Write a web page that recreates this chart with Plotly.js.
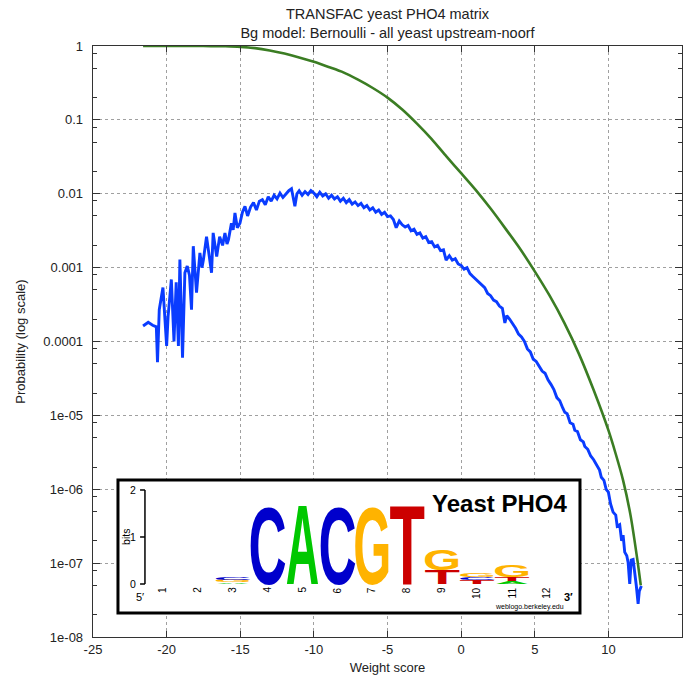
<!DOCTYPE html>
<html><head><meta charset="utf-8">
<script src="https://cdn.plot.ly/plotly-3.0.1.min.js"></script>
<style>html,body{margin:0;padding:0;background:#fff}#chart{width:689px;height:676px}</style>
</head><body><div id="chart"></div>
<script>
// ---- main chart data ----
const blueX = [
 -21.6,-21.25,-20.95,-20.7,-20.62,-20.5,-20.25,-20.0,-19.9,-19.68,
 -19.5,-19.35,-19.2,-19.1,-18.92,-18.76,-18.6,-18.45,-18.31,-18.19,
 -17.97,-17.74,-17.6,-17.5,-17.29,-17.1,-16.95,-16.84,-16.6,-16.4,
 -16.2,-16.04,-15.9,-15.8,-15.6,-15.48,-15.36,-15.2,-15.02,-14.85,
 -14.68,-14.5,-14.3,-14.1,-13.9,-13.7,-13.5,-13.3,-13.1,-12.9,
 -12.7,-12.5,-12.3,-12.1,-11.9,-11.7,-11.52,-11.4,-11.29,-11.15,
 -11.0,-10.8,-10.6,-10.4,-10.2,-10.0,-9.8,-9.6,-9.4,-9.2,
 -9.0,-8.8,-8.6,-8.4,-8.2,-8.0,-7.8,-7.6,-7.4,-7.2,
 -7.0,-6.8,-6.6,-6.4,-6.2,-6.0,-5.8,-5.6,-5.4,-5.2,
 -5.0,-4.8,-4.6,-4.41,-4.2,-4.0,-3.8,-3.6,-3.4,-3.2,
 -3.0,-2.8,-2.6,-2.4,-2.2,-2.0,-1.8,-1.6,-1.4,-1.2,
 -1.02,-0.8,-0.6,-0.4,-0.2,0.0,0.2,0.4,0.6,0.8,
 1.0,1.2,1.4,1.6,1.8,2.0,2.2,2.4,2.6,2.8,
 2.97,3.1,3.3,3.5,3.7,3.9,4.1,4.3,4.5,4.7,
 4.9,5.1,5.3,5.5,5.7,5.9,6.1,6.3,6.5,6.7,
 6.9,7.04,7.2,7.4,7.6,7.72,7.9,8.1,8.3,8.4,
 8.6,8.8,9.0,9.2,9.4,9.52,9.7,9.85,10.0,10.15,
 10.32,10.5,10.6,10.77,10.9,11.0,11.11,11.25,11.34,11.45,
 11.55,11.68,11.8,11.9,12.02,12.1,12.24
];
const blueY = [
 1.62e-4,1.82e-4,1.66e-4,1.58e-4,5.25e-5,2.69e-4,5.37e-4,8.71e-5,2.19e-4,6.92e-4,
 1.0e-4,6.31e-4,8.71e-5,1.29e-3,6.03e-5,8.51e-4,1.05e-3,7.94e-4,2.69e-4,1.95e-3,
 4.57e-4,1.58e-3,1.0e-3,1.29e-3,2.63e-3,1.26e-3,8.51e-4,2.95e-3,1.41e-3,2.63e-3,
 2.0e-3,2.95e-3,2.09e-3,2.4e-3,3.98e-3,3.24e-3,5.5e-3,3.47e-3,3.98e-3,5.62e-3,
 6.76e-3,5.01e-3,6.61e-3,7.59e-3,6.03e-3,7.94e-3,8.32e-3,7.08e-3,9.12e-3,7.94e-3,
 9.55e-3,8.51e-3,1.02e-2,8.91e-3,1.0e-2,1.10e-2,1.17e-2,9.12e-3,6.76e-3,1.0e-2,
 1.10e-2,9.55e-3,1.07e-2,9.77e-3,1.10e-2,1.02e-2,9.12e-3,1.05e-2,9.33e-3,1.0e-2,
 8.71e-3,9.55e-3,8.51e-3,9.12e-3,7.94e-3,8.71e-3,7.59e-3,8.32e-3,7.24e-3,7.76e-3,
 6.92e-3,7.41e-3,6.46e-3,6.92e-3,6.03e-3,6.46e-3,5.62e-3,6.03e-3,5.25e-3,5.62e-3,
 4.9e-3,5.01e-3,4.47e-3,3.47e-3,4.27e-3,3.8e-3,3.55e-3,3.72e-3,3.16e-3,3.31e-3,
 2.82e-3,2.95e-3,2.51e-3,2.63e-3,2.19e-3,2.24e-3,1.91e-3,2.0e-3,1.7e-3,1.74e-3,
 1.26e-3,1.45e-3,1.26e-3,1.32e-3,1.12e-3,1.07e-3,9.55e-4,1.0e-3,8.32e-4,7.59e-4,
 6.92e-4,6.31e-4,5.75e-4,5.37e-4,4.47e-4,4.17e-4,3.63e-4,3.47e-4,3.02e-4,2.82e-4,
 1.78e-4,2.24e-4,2.0e-4,1.74e-4,1.51e-4,1.26e-4,1.15e-4,1.0e-4,7.94e-5,7.24e-5,
 5.75e-5,5.37e-5,4.68e-5,3.98e-5,3.72e-5,3.02e-5,2.63e-5,2.24e-5,1.74e-5,1.58e-5,
 1.26e-5,1.1e-5,1.05e-5,7.94e-6,7.59e-6,6.31e-6,6.03e-6,4.68e-6,4.37e-6,3.8e-6,
 3.47e-6,2.82e-6,2.51e-6,2.09e-6,1.82e-6,1.45e-6,1.32e-6,1.0e-6,9.12e-7,6.31e-7,
 4.9e-7,4.47e-7,3.16e-7,3.31e-7,2.0e-7,2.4e-7,1.41e-7,1.26e-7,1.02e-7,5.25e-8,
 1.1e-7,1.12e-7,6.31e-8,4.9e-8,2.82e-8,4.17e-8,4.9e-8
];
const greenX = [-21.6,-20,-18,-17,-16,-15,-14,-13,-12,-11,-10,-9,-8,-7,-6,-5,-4,-3,-2,-1,0,1,2,3,4,5,6,7,8,9,10,10.5,11,11.5,12,12.2];
const greenY = [1.0,0.9998,0.999,0.997,0.99,0.973,0.935,0.87,0.79,0.70,0.61,0.52,0.44,0.35,0.27,0.20,0.138,0.089,0.055,0.032,0.019,0.0112,0.0063,0.0034,0.0018,8.9e-4,4.2e-4,1.8e-4,6.8e-5,2.2e-5,6.3e-6,3.0e-6,1.32e-6,4.5e-7,1.0e-7,5.0e-8];

const xTickVals = [-25,-20,-15,-10,-5,0,5,10,15];
const yTickVals = [1,0.1,0.01,0.001,0.0001,1e-5,1e-6,1e-7,1e-8];
const yTickText = ['1','0.1','0.01','0.001','0.0001','1e-05','1e-06','1e-07','1e-08'];
const yMinorMantissas = [2,5,8];

// ---- sequence logo data (inset) ----
const logoPositions = [1,2,3,4,5,6,7,8,9,10,11,12];
const logoLetterPos = [3,3,3,4,5,6,7,8,9,9,10,10,10,11,11,11];
const logoLetters   = ['A','G','C','C','A','C','G','T','T','G','T','C','G','A','T','G'];
const logoBits      = [0.035,0.05,0.045,1.72,1.72,1.72,1.72,1.72,0.3,0.47,0.08,0.06,0.09,0.06,0.09,0.25];
const logoBitTicks  = [0,1,2];
const logoColors = {A:'#00c800', C:'#0000cc', G:'#ffb300', T:'#cc0000'};

const FONT = 'Liberation Sans, Arial, Helvetica, sans-serif';
const TXT = '#222';

// minor tick values for log axis
const yMinor = [];
for (let e = 0; e >= -8; e--) {
  yMinorMantissas.forEach(m => { const v = m * Math.pow(10, e - 1); if (v >= 1e-8 && v <= 1) yMinor.push(v); });
}

const traces = [
  {type:'scatter', mode:'lines', x: greenX, y: greenY, line:{color:'#3b7d23', width:2.6, shape:'spline', smoothing:0.6}, hoverinfo:'skip', showlegend:false},
  {type:'scatter', mode:'lines', x: blueX, y: blueY, line:{color:'#0a3cff', width:2.9}, hoverinfo:'skip', showlegend:false},
  {type:'scatter', mode:'markers', x: [], y: [], xaxis:'x2', yaxis:'y2', hoverinfo:'skip', showlegend:false}
];

// inset geometry (paper fractions of plot area) and logo axis ranges
const boxX = [0.0424, 0.8268], boxY = [0.0406, 0.2657];
const logoXRange = [-0.289, 12.948];
const logoYRange = [-0.617, 2.213];
const bitsAxisX = 0.484;

const shapes = [
  {type:'rect', xref:'paper', yref:'paper', x0:boxX[0], x1:boxX[1], y0:boxY[0], y1:boxY[1], line:{color:'#000', width:3}, fillcolor:'#fff', layer:'above'},
  {type:'line', xref:'x2', yref:'y2', x0:bitsAxisX, x1:bitsAxisX, y0:0, y1:2, line:{color:'#000', width:1.5}, layer:'above'}
];
logoBitTicks.forEach(b => shapes.push({type:'line', xref:'x2', yref:'y2', x0:bitsAxisX-0.14, x1:bitsAxisX, y0:b, y1:b, line:{color:'#000', width:1.5}, layer:'above'}));

const annotations = [];
logoBitTicks.forEach(b => annotations.push({xref:'x2', yref:'y2', x:0.29, y:b, text:String(b), showarrow:false, xanchor:'right', yanchor:'middle', font:{family:FONT, size:10.5, color:'#000'}}));
annotations.push({xref:'x2', yref:'y2', x:-0.06, y:1, text:'bits', textangle:-90, showarrow:false, xanchor:'center', yanchor:'middle', font:{family:FONT, size:10.5, color:'#000'}});
logoPositions.forEach(p => annotations.push({xref:'x2', yref:'y2', x:p, y:-0.02, text:String(p), textangle:-90, showarrow:false, xanchor:'center', yanchor:'top', font:{family:FONT, size:10, color:'#000'}}));
annotations.push({xref:'x2', yref:'y2', x:0.34, y:-0.28, text:'5\u2032', showarrow:false, xanchor:'center', yanchor:'middle', font:{family:FONT, size:11, color:'#000'}});
annotations.push({xref:'x2', yref:'y2', x:12.63, y:-0.28, text:'3\u2032', showarrow:false, xanchor:'center', yanchor:'middle', font:{family:FONT, size:11, color:'#000', weight:'bold'}});
annotations.push({xref:'x2', yref:'y2', x:12.55, y:-0.49, text:'weblogo.berkeley.edu', showarrow:false, xanchor:'right', yanchor:'middle', font:{family:FONT, size:7, color:'#000'}});
annotations.push({xref:'x2', yref:'y2', x:10.63, y:1.72, text:'Yeast PHO4', showarrow:false, xanchor:'center', yanchor:'middle', font:{family:FONT, size:24, color:'#000', weight:'bold'}});

// stacked letters
const LETTER_FONT = 100;
const letterStart = annotations.length;
const letterMeta = [];
const stackTop = {};
logoLetters.forEach((L, i) => {
  const p = logoLetterPos[i];
  const bottom = stackTop[p] || 0;
  stackTop[p] = bottom + logoBits[i];
  letterMeta.push({letter:L, pos:p, bottom:bottom, bits:logoBits[i]});
  annotations.push({xref:'x2', yref:'y2', x:p, y:bottom, text:L, showarrow:false, xanchor:'center', yanchor:'bottom', borderpad:0,
    font:{family:FONT, size:LETTER_FONT, color:logoColors[L], weight:'bold'}});
});

const axisFont = {family:FONT, size:13, color:TXT};
const layout = {
  width:689, height:676,
  margin:{l:93, r:7, t:46, b:39},
  paper_bgcolor:'#fff', plot_bgcolor:'#fff',
  showlegend:false,
  title:{text:'TRANSFAC yeast PHO4 matrix<br>Bg model: Bernoulli - all yeast upstream-noorf', font:{family:FONT, size:14.5, color:TXT}, x:0.5, xref:'paper', xanchor:'center', y:0.9715, yref:'container', yanchor:'middle'},
  xaxis:{range:[-25,15], tickmode:'array', tickvals:xTickVals, ticktext:xTickVals.map(String), ticks:'inside', ticklen:6, tickcolor:'#333', tickwidth:1,
    showline:true, linecolor:'#333', linewidth:1.3, mirror:'allticks', showgrid:true, gridcolor:'#a0a0a0', griddash:'dot', gridwidth:1, zeroline:false,
    tickfont:axisFont, title:{text:'Weight score', font:axisFont, standoff:7}},
  yaxis:{type:'log', range:[-8,0], tickmode:'array', tickvals:yTickVals, ticktext:yTickText, ticks:'inside', ticklen:7, tickcolor:'#333', tickwidth:1,
    minor:{tickmode:'array', tickvals:yMinor, ticks:'inside', ticklen:4, tickcolor:'#333', showgrid:false},
    showline:true, linecolor:'#333', linewidth:1.3, mirror:'allticks', showgrid:true, gridcolor:'#a0a0a0', griddash:'dot', gridwidth:1, zeroline:false,
    tickfont:axisFont, ticklabelstandoff:6, title:{text:'Probability (log scale)', font:axisFont, standoff:14}},
  xaxis2:{domain:boxX, range:logoXRange, anchor:'y2', visible:false, fixedrange:true},
  yaxis2:{domain:boxY, range:logoYRange, anchor:'x2', visible:false, fixedrange:true},
  shapes:shapes,
  annotations:annotations
};

const INK_FRAC = {A:0.99, C:0.87, G:0.87, T:0.935};
const CAP = {A:0.716, C:0.74, G:0.74, T:0.716};

Plotly.newPlot('chart', traces, layout, {staticPlot:true, displayModeBar:false}).then(gd => {
  const xa = gd._fullLayout.xaxis2, ya = gd._fullLayout.yaxis2;
  gd.querySelectorAll('g.annotation').forEach(g => {
    const idx = +g.getAttribute('data-index');
    if (idx < letterStart) return;
    const meta = letterMeta[idx - letterStart];
    if (!meta) return;
    const t = g.querySelector('text.annotation-text');
    if (!t) return;
    const bb = t.getBBox();
    const m = t.parentNode.getCTM();
    let base = parseFloat(t.getAttribute('y'));
    if (!isFinite(base)) base = bb.y + bb.height * 0.81;
    const cx = bb.x + bb.width / 2;
    const inkW = bb.width * INK_FRAC[meta.letter];
    const inkH = CAP[meta.letter] * LETTER_FONT;
    const tgtCx = xa._offset + xa.l2p(meta.pos);
    const tgtBottom = ya._offset + ya.l2p(meta.bottom);
    const tgtTop = ya._offset + ya.l2p(meta.bottom + meta.bits);
    const tgtW = (xa.l2p(meta.pos + 0.5) - xa.l2p(meta.pos - 0.5)) * 0.95;
    const sx = tgtW / inkW, sy = (tgtBottom - tgtTop) / inkH;
    t.setAttribute('transform', 'translate(' + (tgtCx - m.e) + ',' + (tgtBottom - m.f) + ') scale(' + sx + ',' + sy + ') translate(' + (-cx) + ',' + (-base) + ')');
  });
});
</script>
</body></html>
